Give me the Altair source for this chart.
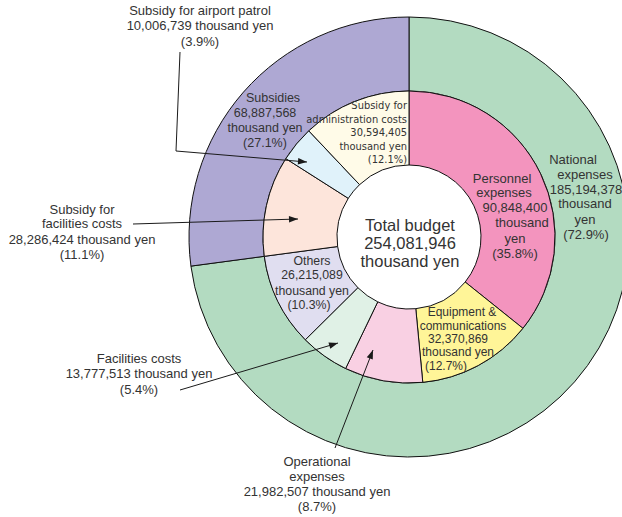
import math

import altair as alt
import pandas as pd

# ---- budget figures (thousand yen) ----
outer_names = ["National expenses", "Subsidies"]
outer_values = [185194378, 68887568]
outer_pct = ["72.9%", "27.1%"]
outer_colors = ["#b3dbc1", "#aea8d3"]

inner_names = [
    "Personnel expenses",
    "Equipment & communications",
    "Operational expenses",
    "Facilities costs",
    "Others",
    "Subsidy for facilities costs",
    "Subsidy for airport patrol",
    "Subsidy for administration costs",
]
inner_values = [90848400, 32370869, 21982507, 13777513, 26215089, 28286424, 10006739, 30594405]
inner_pct = ["35.8%", "12.7%", "8.7%", "5.4%", "10.3%", "11.1%", "3.9%", "12.1%"]
inner_colors = ["#f394be", "#fff598", "#f9d0e3", "#e0f1e6", "#e0def0", "#fde5db", "#e0f2fa", "#fffbe8"]

# ---- canvas and ring geometry (pixels) ----
W, H = 622, 517
CX, CY = 409, 237
R_OUTER, R_MID, R_HOLE = 220, 146, 72
INK = "#333333"
LINE = "#1a1a1a"
FONT = "Liberation Sans, Arial, Helvetica, sans-serif"
NARROW = "Liberation Sans Narrow, Arial Narrow, DejaVu Sans Condensed, Liberation Sans, sans-serif"

total = sum(outer_values)

# Line-by-line wording of every label; {v} is the value, {p} the share
templates = {
    "TOTAL": ["Total budget", "{v}", "thousand yen"],
    "National expenses": ["National", "expenses", "{v}", "thousand", "yen", "({p})"],
    "Subsidies": ["Subsidies", "{v}", "thousand yen", "({p})"],
    "Personnel expenses": ["Personnel", "expenses", "{v}", "thousand", "yen", "({p})"],
    "Equipment & communications": ["Equipment &", "communications", "{v}", "thousand yen", "({p})"],
    "Others": ["Others", "{v}", "thousand yen", "({p})"],
    "Subsidy for administration costs": ["Subsidy for", "administration costs", "{v}", "thousand yen", "({p})"],
    "Subsidy for airport patrol": ["Subsidy for airport patrol", "{v} thousand yen", "({p})"],
    "Subsidy for facilities costs": ["Subsidy for", "facilities costs", "{v} thousand yen", "({p})"],
    "Facilities costs": ["Facilities costs", "{v} thousand yen", "({p})"],
    "Operational expenses": ["Operational", "expenses", "{v} thousand yen", "({p})"],
}

# Placement of each label line: x per line, y per line, font size, narrow/right-aligned flag
placement = {
    "TOTAL": ([410, 410, 410], [226, 244, 262], 16.5, False),
    "National expenses": ([573, 585, 586, 585, 585, 586], [160, 175, 190, 204, 220, 235], 13, False),
    "Subsidies": ([273, 265, 265, 265], [98, 113, 128, 143], 12.5, False),
    "Personnel expenses": ([502, 504, 515, 522, 515, 515], [179, 193, 208, 223, 239, 254], 13, False),
    "Equipment & communications": ([462, 463, 458, 458, 446], [312, 326, 339, 352, 366], 12, False),
    "Others": ([312, 312, 312, 309], [261, 275, 291, 305], 12.3, False),
    "Subsidy for administration costs": ([407] * 5, [106, 120, 133, 147, 160], 11, True),
    "Subsidy for airport patrol": ([200, 200, 200], [11, 26, 42], 13, False),
    "Subsidy for facilities costs": ([82, 82, 82, 82], [210, 224, 240, 255], 13, False),
    "Facilities costs": ([139, 139, 139], [359, 374, 390], 13, False),
    "Operational expenses": ([317, 317, 317, 317], [462, 477, 492, 507], 13, False),
}

# Leader lines (polyline points, last point is the arrow tip)
leaders = {
    "Subsidy for airport patrol": [(180, 52), (176, 151), (307, 162)],
    "Subsidy for facilities costs": [(133, 224), (298, 219)],
    "Facilities costs": [(180, 390), (338, 343)],
    "Operational expenses": [(335, 448), (373, 350)],
}

# ---- tables ----
outer_df = pd.DataFrame({"name": outer_names, "value": outer_values, "k": range(len(outer_names))})
inner_df = pd.DataFrame({"name": inner_names, "value": inner_values, "k": range(len(inner_names))})

lookup = {}
for n, v, p in zip(outer_names, outer_values, outer_pct):
    lookup[n] = (v, p)
for n, v, p in zip(inner_names, inner_values, inner_pct):
    lookup[n] = (v, p)
lookup["TOTAL"] = (total, "")

rows = []
for key, lines in templates.items():
    v, p = lookup[key]
    xs, ys, size, narrow = placement[key]
    for line, x, y in zip(lines, xs, ys):
        rows.append({
            "x": x, "y": y, "size": size, "narrow": narrow,
            "line": line.format(v=f"{v:,}", p=p),
        })
text_df = pd.DataFrame(rows)

seg_rows, tip_rows = [], []
for key, pts in leaders.items():
    for (x1, y1), (x2, y2) in zip(pts[:-1], pts[1:]):
        seg_rows.append({"x": x1, "y": y1, "x2": x2, "y2": y2})
    (xa, ya), (xb, yb) = pts[-2], pts[-1]
    ang = math.degrees(math.atan2(yb - ya, xb - xa)) % 360
    tip_rows.append({"x": xb, "y": yb, "angle": ang})
seg_df = pd.DataFrame(seg_rows)
tip_df = pd.DataFrame(tip_rows)

# ---- shared encodings ----
xs = alt.Scale(domain=[0, W], range=[0, W], nice=False, zero=False)
ys = alt.Scale(domain=[0, H], range=[0, H], nice=False, zero=False)
color_scale = alt.Scale(domain=outer_names + inner_names, range=outer_colors + inner_colors)


def ring(df, r_out, r_in):
    return alt.Chart(df).mark_arc(
        radius=r_out, radius2=r_in, stroke="#111111", strokeWidth=1
    ).encode(
        theta=alt.Theta("value:Q", stack=True),
        order=alt.Order("k:Q"),
        color=alt.Color("name:N", scale=color_scale, legend=None),
        x=alt.value(CX),
        y=alt.value(CY),
    )


outer_ring = ring(outer_df, R_OUTER, R_MID)
inner_ring = ring(inner_df, R_MID, R_HOLE)

rules = alt.Chart(seg_df).mark_rule(color=LINE, strokeWidth=1).encode(
    x=alt.X("x:Q", scale=xs, axis=None),
    y=alt.Y("y:Q", scale=ys, axis=None),
    x2="x2:Q",
    y2="y2:Q",
)

arrows = alt.Chart(tip_df).mark_point(
    shape="M0,0L-1,-0.36L-1,0.36Z", filled=True, color=LINE, opacity=1, size=324, strokeWidth=0
).encode(
    x=alt.X("x:Q", scale=xs, axis=None),
    y=alt.Y("y:Q", scale=ys, axis=None),
    angle=alt.Angle("angle:Q", scale=None),
)

normal_text = alt.Chart(text_df).transform_filter("!datum.narrow").mark_text(
    font=FONT, color=INK, align="center", baseline="middle"
).encode(
    x=alt.X("x:Q", scale=xs, axis=None),
    y=alt.Y("y:Q", scale=ys, axis=None),
    text="line:N",
    size=alt.Size("size:Q", scale=None),
)

narrow_text = alt.Chart(text_df).transform_filter("datum.narrow").mark_text(
    font=NARROW, color=INK, align="right", baseline="middle"
).encode(
    x=alt.X("x:Q", scale=xs, axis=None),
    y=alt.Y("y:Q", scale=ys, axis=None),
    text="line:N",
    size=alt.Size("size:Q", scale=None),
)

chart = alt.layer(
    outer_ring, inner_ring, rules, arrows, normal_text, narrow_text
).resolve_scale(
    theta="independent"
).properties(
    width=W,
    height=H,
    padding=0,
    autosize=alt.AutoSizeParams(type="none"),
    background="white",
).configure_view(stroke=None)

chart.save("out.html", embed_options={"renderer": "svg", "actions": False})
